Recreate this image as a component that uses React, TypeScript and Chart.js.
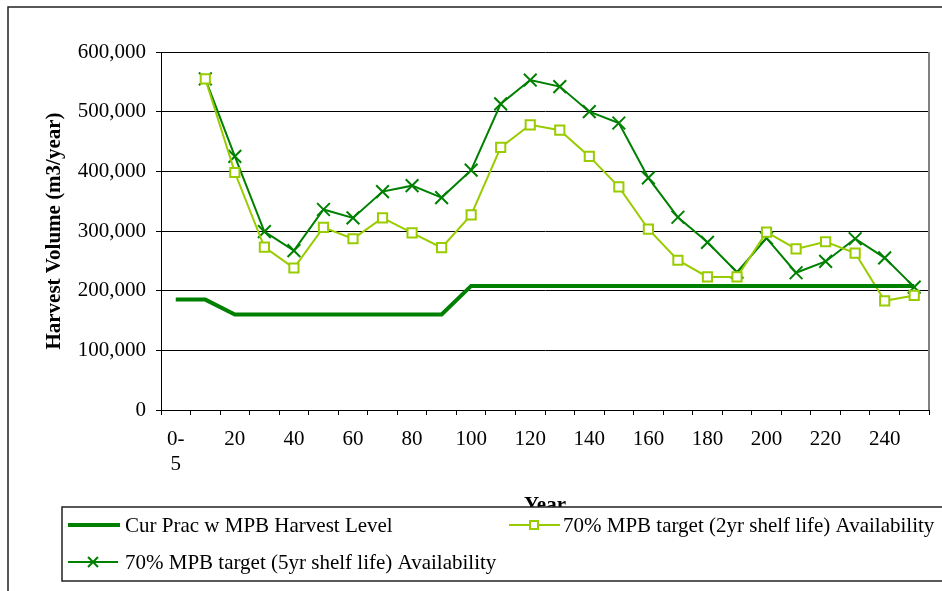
import React, { useEffect, useRef } from "react";
import { Chart, registerables } from "chart.js";

Chart.register(...registerables);

// Planning periods (years)
const categories = [
  "0-5", "10", "20", "30", "40", "50", "60", "70", "80", "90", "100", "110", "120",
  "130", "140", "150", "160", "170", "180", "190", "200", "210", "220", "230", "240", "250",
];

// Harvest volumes, m3/year
const curPracHarvest = [
  185000, 185000, 160000, 160000, 160000, 160000, 160000, 160000, 160000, 160000,
  208000, 208000, 208000, 208000, 208000, 208000, 208000, 208000, 208000, 208000,
  208000, 208000, 208000, 208000, 208000, 208000,
];
const target2yr = [
  null, 555000, 398000, 273000, 238000, 306000, 287000, 322000, 297000, 272000,
  327000, 440000, 478000, 469000, 425000, 374000, 303000, 251000, 223000, 223000,
  298000, 270000, 282000, 263000, 183000, 192000,
];
const target5yr = [
  null, 555000, 425000, 299000, 267000, 336000, 322000, 366000, 376000, 356000,
  402000, 513000, 553000, 542000, 500000, 481000, 389000, 323000, 281000, 231000,
  288000, 230000, 249000, 287000, 255000, 206000,
];

const seriesNames = [
  "Cur Prac w MPB Harvest Level",
  "70% MPB target (2yr shelf life) Availability",
  "70% MPB target (5yr shelf life) Availability",
];

const DARK_GREEN = "#008000";
const LIGHT_GREEN = "#99CC00";
const FONT_FAMILY = "'Liberation Serif', 'Times New Roman', serif";
const FONT_SIZE = 21;

const W = 942;
const H = 591;

// Frame, axis titles, right edge of the plot and the legend box
const decorations = {
  id: "decorations",
  afterDraw(chart: any) {
    const ctx = chart.ctx as CanvasRenderingContext2D;
    const area = chart.chartArea;
    ctx.save();

    // outer frame
    ctx.strokeStyle = "#222";
    ctx.lineWidth = 1.5;
    ctx.beginPath();
    ctx.moveTo(8, H);
    ctx.lineTo(8, 7);
    ctx.lineTo(W, 7);
    ctx.stroke();

    // right border of the plot area
    ctx.strokeStyle = "#808080";
    ctx.lineWidth = 2;
    ctx.beginPath();
    ctx.moveTo(area.right, area.top);
    ctx.lineTo(area.right, area.bottom);
    ctx.stroke();

    // y-axis title
    ctx.fillStyle = "#000";
    ctx.font = `bold ${FONT_SIZE}px ${FONT_FAMILY}`;
    ctx.textAlign = "center";
    ctx.textBaseline = "middle";
    ctx.save();
    ctx.translate(55, (area.top + area.bottom) / 2);
    ctx.rotate(-Math.PI / 2);
    ctx.fillText("Harvest Volume (m3/year)", 0, 0);
    ctx.restore();

    // x-axis title (partly covered by the legend box)
    ctx.fillText("Year", (area.left + area.right) / 2, 506);

    // legend box
    const lx = 62;
    const ly = 507;
    ctx.fillStyle = "#fff";
    ctx.fillRect(lx, ly, W - lx + 10, 74);
    ctx.strokeStyle = "#222";
    ctx.lineWidth = 1.5;
    ctx.strokeRect(lx, ly, W - lx + 10, 74);

    ctx.font = `${FONT_SIZE}px ${FONT_FAMILY}`;
    ctx.textAlign = "left";
    ctx.textBaseline = "middle";
    ctx.fillStyle = "#000";

    const row1 = 525;
    const row2 = 562;

    // entry 1: thick line
    ctx.strokeStyle = DARK_GREEN;
    ctx.lineWidth = 4;
    ctx.beginPath();
    ctx.moveTo(68, row1);
    ctx.lineTo(120, row1);
    ctx.stroke();
    ctx.fillText(seriesNames[0], 125, row1 + 1);

    // entry 2: line with hollow square
    ctx.strokeStyle = LIGHT_GREEN;
    ctx.lineWidth = 2;
    ctx.beginPath();
    ctx.moveTo(509, row1);
    ctx.lineTo(560, row1);
    ctx.stroke();
    ctx.fillStyle = "#fff";
    ctx.fillRect(530, row1 - 4, 8, 8);
    ctx.strokeRect(530, row1 - 4, 8, 8);
    ctx.fillStyle = "#000";
    ctx.fillText(seriesNames[1], 563, row1 + 1);

    // entry 3: line with X marker
    ctx.strokeStyle = DARK_GREEN;
    ctx.lineWidth = 2;
    ctx.beginPath();
    ctx.moveTo(68, row2);
    ctx.lineTo(118, row2);
    ctx.moveTo(88, row2 - 5);
    ctx.lineTo(98, row2 + 5);
    ctx.moveTo(98, row2 - 5);
    ctx.lineTo(88, row2 + 5);
    ctx.stroke();
    ctx.fillText(seriesNames[2], 125, row2 + 1);

    ctx.restore();
  },
};

export default function App() {
  const canvasRef = useRef<HTMLCanvasElement | null>(null);

  useEffect(() => {
    const canvas = canvasRef.current;
    if (!canvas) return;
    Chart.defaults.font.family = FONT_FAMILY;
    Chart.defaults.font.size = FONT_SIZE;
    Chart.defaults.color = "#000";

    const chart = new Chart(canvas, {
      type: "line",
      data: {
        labels: categories,
        datasets: [
          {
            label: seriesNames[0],
            data: curPracHarvest,
            borderColor: DARK_GREEN,
            backgroundColor: DARK_GREEN,
            borderWidth: 4,
            pointRadius: 0,
            tension: 0,
          },
          {
            label: seriesNames[1],
            data: target2yr,
            borderColor: LIGHT_GREEN,
            backgroundColor: "#fff",
            borderWidth: 2,
            pointStyle: "rect",
            pointRadius: 6.5,
            pointBorderWidth: 2,
            pointBorderColor: LIGHT_GREEN,
            pointBackgroundColor: "#fff",
            tension: 0,
          },
          {
            label: seriesNames[2],
            data: target5yr,
            borderColor: DARK_GREEN,
            backgroundColor: DARK_GREEN,
            borderWidth: 2,
            pointStyle: "crossRot",
            pointRadius: 9,
            pointBorderWidth: 2,
            pointBorderColor: DARK_GREEN,
            tension: 0,
          },
        ],
      },
      options: {
        responsive: false,
        animation: false,
        layout: { padding: { top: 52, right: 13, left: 0, bottom: 0 } },
        plugins: {
          legend: { display: false },
          tooltip: { enabled: false },
          title: { display: false },
        },
        scales: {
          x: {
            type: "category",
            offset: true,
            grid: {
              offset: true,
              drawOnChartArea: false,
              drawTicks: true,
              tickLength: 5,
              color: "#000",
              lineWidth: 1,
            },
            border: { color: "#000", width: 1 },
            ticks: {
              autoSkip: false,
              maxRotation: 0,
              minRotation: 0,
              padding: 12,
              color: "#000",
              font: { size: FONT_SIZE, family: FONT_FAMILY },
              callback: (_v: any, i: number) => {
                if (i === 0) return ["0-", "5"];
                return i % 2 === 0 ? categories[i] : "";
              },
            },
            afterFit: (scale: any) => {
              scale.height = H - 410;
            },
          },
          y: {
            min: 0,
            max: 600000,
            grid: {
              color: "#000",
              lineWidth: 1,
              tickLength: 5,
            },
            border: { color: "#000", width: 1 },
            ticks: {
              stepSize: 100000,
              padding: 10,
              color: "#000",
              font: { size: FONT_SIZE, family: FONT_FAMILY },
              callback: (v: any) => Number(v).toLocaleString("en-US"),
            },
            afterFit: (scale: any) => {
              scale.width = 161;
            },
          },
        },
      },
      plugins: [decorations],
    });

    return () => chart.destroy();
  }, []);

  return (
    <div
      style={{
        position: "fixed",
        left: 0,
        top: 0,
        width: W,
        height: H,
        background: "#fff",
        overflow: "hidden",
      }}
    >
      <canvas ref={canvasRef} width={W} height={H} style={{ display: "block" }} />
    </div>
  );
}
